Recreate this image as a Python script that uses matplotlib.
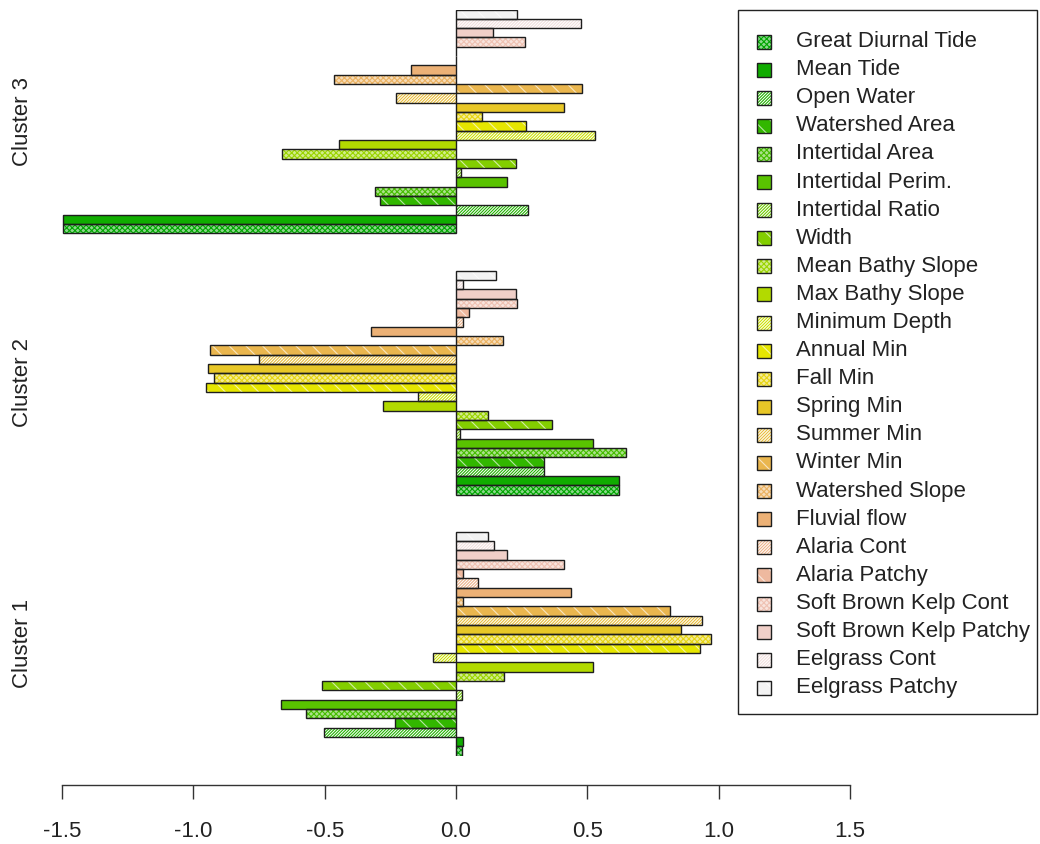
import colorsys
import numpy as np
import matplotlib
matplotlib.use('Agg')
import matplotlib.pyplot as plt
from matplotlib.patches import Rectangle
from matplotlib import rcParams

rcParams['font.family'] = ['Liberation Sans', 'DejaVu Sans']
rcParams['hatch.linewidth'] = 0.8

# variables, in legend order (first one is the bottom bar of each cluster)
variables = ['Great Diurnal Tide', 'Mean Tide', 'Open Water', 'Watershed Area',
             'Intertidal Area', 'Intertidal Perim.', 'Intertidal Ratio', 'Width',
             'Mean Bathy Slope', 'Max Bathy Slope', 'Minimum Depth', 'Annual Min',
             'Fall Min', 'Spring Min', 'Summer Min', 'Winter Min',
             'Watershed Slope', 'Fluvial flow', 'Alaria Cont', 'Alaria Patchy',
             'Soft Brown Kelp Cont', 'Soft Brown Kelp Patchy', 'Eelgrass Cont',
             'Eelgrass Patchy']

clusters = ['Cluster 1', 'Cluster 2', 'Cluster 3']

cluster1 = [0.023, 0.028, -0.501, -0.232, -0.572, -0.665, 0.023, -0.510,
            0.183, 0.522, -0.089, 0.928, 0.971, 0.855, 0.938, 0.816,
            0.027, 0.438, 0.082, 0.027, 0.410, 0.194, 0.143, 0.121]
cluster2 = [0.621, 0.621, 0.336, 0.336, 0.648, 0.520, 0.016, 0.365,
            0.121, -0.279, -0.145, -0.950, -0.922, -0.944, -0.750, -0.938,
            0.178, -0.324, 0.027, 0.048, 0.232, 0.227, 0.027, 0.154]
cluster3 = [-1.495, -1.495, 0.273, -0.290, -0.307, 0.195, 0.020, 0.228,
            -0.663, -0.445, 0.529, 0.266, 0.098, 0.411, -0.228, 0.479,
            -0.463, -0.173, 0.0, 0.0, 0.262, 0.139, 0.474, 0.233]

x_ticks = [-1.5, -1.0, -0.5, 0.0, 0.5, 1.0, 1.5]

# R terrain.colors(24)
def terrain_colors(n):
    k = n // 2
    cols = []
    for t in np.linspace(0, 1, k):
        h = 4/12 + (2/12 - 4/12) * t
        s = 1.0
        v = 0.65 + (0.9 - 0.65) * t
        cols.append(colorsys.hsv_to_rgb(h, s, v))
    for t in np.linspace(0, 1, n - k + 1)[1:]:
        h = 2/12 - 2/12 * t
        s = 1.0 - t
        v = 0.9 + 0.05 * t
        cols.append(colorsys.hsv_to_rgb(h, s, v))
    return cols

colors = terrain_colors(len(variables))

def blend(c, a):
    return tuple(a * ci + (1 - a) * 1.0 for ci in c)

# shading style cycle: dense cross, solid, diagonal, solid with white streaks
def bar_style(i):
    c = colors[i]
    m = i % 4
    if m == 0:
        return dict(facecolor=blend(c, 0.45), hatchcolor=c, hatch='xxxxxx')
    if m == 1:
        return dict(facecolor=c, hatchcolor=None, hatch=None)
    if m == 2:
        return dict(facecolor='white', hatchcolor=c, hatch='///////////')
    return dict(facecolor=c, hatchcolor=blend(c, 0.35), hatch='\\\\')

W, H = 1040, 844
fig = plt.figure(figsize=(W / 100, H / 100), dpi=100)
ax = fig.add_axes([62 / W, (H - 755.7) / H, 788 / W, (755.7 - 9.5) / H])

data = [cluster1, cluster2, cluster3]
gap = 4
nvar = len(variables)
centers = []
for c, vals in enumerate(data):
    base = c * (nvar + gap)
    y = base + np.arange(nvar)
    centers.append(base + (nvar - 1) / 2)
    for i in range(nvar):
        st = bar_style(i)
        if st['hatch']:
            ax.barh(y[i], vals[i], height=1.0, color=st['facecolor'],
                    edgecolor=st['hatchcolor'], hatch=st['hatch'], linewidth=0)
        else:
            ax.barh(y[i], vals[i], height=1.0, color=st['facecolor'], linewidth=0)
    ax.barh(y, vals, height=1.0, fill=False, edgecolor='#1e1e1e', linewidth=1.0)

ax.set_xlim(-1.5, 1.5)
ax.set_ylim(-0.5, 2 * (nvar + gap) + nvar - 0.5)

for s in ['top', 'right', 'left']:
    ax.spines[s].set_visible(False)
ax.spines['bottom'].set_position(('outward', 21))
ax.spines['bottom'].set_linewidth(1.0)
ax.spines['bottom'].set_color('#333333')
ax.set_xticks(x_ticks)
ax.set_xticklabels(['%.1f' % v for v in x_ticks])
ax.tick_params(axis='x', length=10, width=1.0, color='#333333', pad=16,
               labelsize=16, labelcolor='#222222')
ax.set_yticks(centers)
ax.set_yticklabels(clusters, rotation=90, va='center')
ax.tick_params(axis='y', length=0, pad=21, labelsize=16, labelcolor='#222222')

# legend box drawn in figure pixels
def fx(px):
    return px / W

def fy(py):
    return (H - py) / H

fig.patches.append(Rectangle((fx(738), fy(714)), fx(1037) - fx(738), fy(10) - fy(714),
                             transform=fig.transFigure, fill=False,
                             edgecolor='#222222', linewidth=1.0, zorder=5))
row0, pitch = 41.5, 28.1
for i, name in enumerate(variables):
    yc = row0 + i * pitch
    st = bar_style(i)
    sw = 14
    if st['hatch']:
        fig.patches.append(Rectangle((fx(757), fy(yc + sw / 2)), fx(sw), sw / H,
                                     transform=fig.transFigure, facecolor=st['facecolor'],
                                     edgecolor=st['hatchcolor'], hatch=st['hatch'],
                                     linewidth=0, zorder=5))
    else:
        fig.patches.append(Rectangle((fx(757), fy(yc + sw / 2)), fx(sw), sw / H,
                                     transform=fig.transFigure, facecolor=st['facecolor'],
                                     linewidth=0, zorder=5))
    fig.patches.append(Rectangle((fx(757), fy(yc + sw / 2)), fx(sw), sw / H,
                                 transform=fig.transFigure, fill=False,
                                 edgecolor='#1e1e1e', linewidth=1.0, zorder=6))
    fig.text(fx(796), fy(yc), name, fontsize=16, color='#222222',
             ha='left', va='center')

fig.savefig('out.png', dpi=100)
